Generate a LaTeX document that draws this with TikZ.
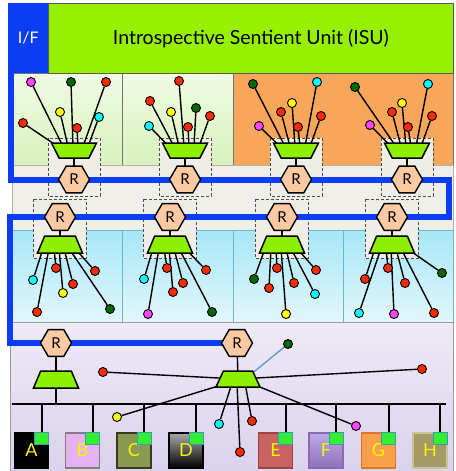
\documentclass[tikz,border=0pt]{standalone}
\usepackage{fontspec}
\setmainfont{Lato}
\usetikzlibrary{shapes.geometric,calc}

\definecolor{isulime}{HTML}{96F000}
\definecolor{muxgreen}{HTML}{8CF000}
\definecolor{ifblue}{HTML}{0D3DF2}
\definecolor{rpeach}{HTML}{FBC9A2}
\definecolor{unitgrey}{HTML}{EEEEE7}
\definecolor{bandgrey}{HTML}{EFEEE9}
\definecolor{panelorange}{HTML}{F7A65A}
\definecolor{leafhi}{HTML}{F0FAE4}
\definecolor{leaflo}{HTML}{D8F2BC}
\definecolor{aquahi}{HTML}{A6E7F7}
\definecolor{aqualo}{HTML}{E3F6FB}
\definecolor{aquaedge}{HTML}{6DB6C9}
\definecolor{lavhi}{HTML}{EEEAF6}
\definecolor{lavlo}{HTML}{DBD1EC}
\definecolor{dotred}{HTML}{FF2A00}
\definecolor{dotgreen}{HTML}{006A00}
\definecolor{dotyellow}{HTML}{FFFF00}
\definecolor{dotcyan}{HTML}{00FFFF}
\definecolor{dotmagenta}{HTML}{FF45FF}
\definecolor{portgreen}{HTML}{33EE33}
\definecolor{portedge}{HTML}{3A9AB0}
\definecolor{letteryellow}{HTML}{F5F500}
\definecolor{steel}{HTML}{5A96C8}
\definecolor{devB}{HTML}{E6B2F2}
\definecolor{devC}{HTML}{8A9A52}
\definecolor{devCedge}{HTML}{3A3A20}
\definecolor{devDhi}{HTML}{A8A8A8}
\definecolor{devE}{HTML}{C96262}
\definecolor{devEedge}{HTML}{A34040}
\definecolor{devFhi}{HTML}{BBAAE4}
\definecolor{devFlo}{HTML}{8F6FBA}
\definecolor{devFedge}{HTML}{8A6AAE}
\definecolor{devG}{HTML}{F8A04C}
\definecolor{devGedge}{HTML}{D9782A}
\definecolor{devH}{HTML}{A39A68}
\definecolor{devHedge}{HTML}{C4C890}

\pgfdeclarelayer{panels}
\pgfdeclarelayer{wires}
\pgfsetlayers{panels,wires,main}

\tikzset{
  router/.style={regular polygon, regular polygon sides=6, minimum size=31pt,
    inner sep=0pt, draw=black, line width=1.4pt, fill=rpeach,
    font=\fontsize{15}{15}\selectfont},
  muxbase/.style={trapezium, trapezium stretches=true, draw=black,
    line width=1.5pt, fill=muxgreen, inner xsep=2pt, inner ysep=1pt, minimum width=45pt},
  demux/.style={muxbase, minimum height=15pt, trapezium left angle=63,
    trapezium right angle=63, shape border rotate=180},
  mux/.style={muxbase, minimum height=17pt, trapezium left angle=65,
    trapezium right angle=65},
  dot/.style={circle, draw=black, line width=0.9pt, minimum size=9pt, inner sep=0pt},
  spoke/.style={line width=1.4pt, draw=black},
  unitbox/.style={draw=black!70, dash pattern=on 3pt off 2pt, line width=0.8pt, fill=unitgrey},
  ifline/.style={draw=ifblue, line width=6pt, line join=miter},
  busline/.style={draw=black, line width=1.6pt},
  device/.style={minimum width=34pt, minimum height=35pt, inner sep=0pt,
    line width=1.2pt, text=letteryellow, font=\fontsize{18}{18}\selectfont},
  port/.style={minimum width=14pt, minimum height=12pt, inner sep=0pt,
    fill=portgreen, draw=portedge, line width=0.8pt},
  panel/.style={draw=black!55, line width=0.6pt},
}

% #1 = switch node, #2 = vertical start offset, #3 = offset/x/y/colour list
\newcommand\fanout[3]{%
  \foreach \o/\x/\y/\c [count=\k] in {#3} {
    \node[dot, fill=\c] (#1d\k) at (\x,\y) {};
    \begin{pgfonlayer}{wires}
      \draw[spoke] ($(#1.center)+(\o,#2)$) -- (#1d\k);
    \end{pgfonlayer}
  }}

\begin{document}
\begin{tikzpicture}[x=1pt,y=-1pt]
\useasboundingbox (0,0) rectangle (455,471);

% background panels
\begin{pgfonlayer}{panels}
  \draw[panel, top color=leafhi, bottom color=leaflo] (12,73) rectangle (122,165);
  \draw[panel, top color=leafhi, bottom color=leaflo] (122,73) rectangle (233,165);
  \draw[panel, fill=panelorange] (233,73) rectangle (453,165);
  \draw[draw=black!30, fill=bandgrey] (12,165) rectangle (453,230);
  \foreach \a/\b in {12/122,122/233,233/343,343/453}
    \draw[draw=aquaedge, line width=0.6pt, top color=aquahi, bottom color=aqualo] (\a,230) rectangle (\b,322);
  \draw[draw=black!40, line width=0.6pt, top color=lavhi, bottom color=lavlo] (10,322) rectangle (453,475);
  \foreach \cx in {74,185,296,407}
    \draw[unitbox] (\cx-26,138) rectangle (\cx+26,196);
  \foreach \cx in {60,170,282,392}
    \draw[unitbox] (\cx-27,199) rectangle (\cx+26,258);
\end{pgfonlayer}

% header
\node[fill=ifblue, minimum width=40pt, minimum height=70pt, anchor=north west,
  inner sep=0pt, text=white, font=\fontsize{16}{16}\selectfont] (ifbox) at (8,3) {\raisebox{-4pt}{I/F}};
\node[fill=isulime, draw=black!65, line width=0.8pt, minimum width=405pt,
  minimum height=70pt, anchor=north west, inner sep=0pt,
  font=\fontsize{19.5}{19.5}\selectfont] (isu) at (48,3) {\raisebox{-4pt}{Introspective Sentient Unit (ISU)}};

% upper switch row
\foreach \i/\cx in {1/74,2/185,3/296,4/407} {
  \node[demux] (t\i) at (\cx,150.5) {};
  \node[router] (rt\i) at (\cx,179.5) {R};
  \begin{pgfonlayer}{wires}\draw[spoke] (t\i.center) -- (rt\i.center);\end{pgfonlayer}
}
\fanout{t1}{-4}{-16/23/123/dotred, -11/31/82/dotmagenta, -6/60/112/dotyellow, -1/71/82/dotgreen, 4/77/128/dotred, 9/106/82/dotred, 14/99/117/dotcyan}
\fanout{t2}{-4}{-16/149/126/dotcyan, -11/150/101/dotred, -6/171/112/dotyellow, -1/179/81/dotred, 4/188/127/dotred, 9/196/108/dotgreen, 14/210/116/dotred}
\fanout{t3}{-4}{-16/259/126/dotmagenta, -11/253/84/dotgreen, -6/281/112/dotred, -1/292/103/dotyellow, 4/298/127/dotred, 9/317/82/dotcyan, 14/321/116/dotred}
\fanout{t4}{-4}{-16/370/125/dotmagenta, -11/355/87/dotgreen, -6/392/112/dotred, -1/402/103/dotyellow, 4/408/127/dotred, 9/428/84/dotcyan, 14/432/116/dotred}

% lower switch row
\foreach \i/\cx in {1/60,2/170,3/282,4/392} {
  \node[router] (rm\i) at (\cx,217) {R};
  \node[mux] (m\i) at (\cx,244.5) {};
  \begin{pgfonlayer}{wires}\draw[spoke] (rm\i.center) -- (m\i.center);\end{pgfonlayer}
}
\fanout{m1}{4}{-17/33/280/dotcyan, -11/37/312/dotred, -6/56/268/dotred, -1/63/293/dotyellow, 4/73/284/dotred, 9/110/309/dotgreen, 15/95/271/dotred}
\fanout{m2}{4}{-17/144/279/dotcyan, -11/148/314/dotmagenta, -6/167/268/dotred, -1/173/292/dotred, 4/183/283/dotred, 9/212/312/dotgreen, 15/206/270/dotred}
\fanout{m3}{4}{-17/254/279/dotgreen, -11/269/288/dotred, -6/277/268/dotred, -1/286/314/dotyellow, 4/294/283/dotred, 9/315/294/dotcyan, 15/316/270/dotred}
\fanout{m4}{4}{-17/365/279/dotred, -11/359/313/dotcyan, -6/388/268/dotred, -1/394/314/dotmagenta, 4/405/283/dotred, 9/434/313/dotred, 15/442/273/dotgreen}

% bottom section
\node[router] (rb1) at (56,343) {R};
\node[mux] (b1) at (56,379.5) {};
\node[router] (rb2) at (237,343) {R};
\node[mux, minimum height=16pt, minimum width=44pt, trapezium left angle=63,
  trapezium right angle=63] (b2) at (238,379) {};
\coordinate (busL) at (12,404);
\coordinate (busR) at (446,404);

\node[dot, fill=dotred] (bd1) at (103,372) {};
\node[dot, fill=dotred] (bd2) at (422,369) {};
\node[dot, fill=dotyellow] (bd3) at (117,417) {};
\node[dot, fill=dotcyan] (bd4) at (219,424) {};
\node[dot, fill=dotred] (bd5) at (240,452) {};
\node[dot, fill=dotred] (bd6) at (252,421) {};
\node[dot, fill=dotmagenta] (bd7) at (356,426) {};
\node[dot, fill=dotgreen] (bd8) at (288,344) {};

% devices on the bus
\node[device, fill=black, draw=black] (devA) at (31.5,450.5) {\raisebox{-3pt}{A}};
\node[device, fill=devB, draw=black!50] (devB) at (82.5,450.5) {\raisebox{-3pt}{B}};
\node[device, fill=devC, draw=devCedge] (devC) at (134,450.5) {\raisebox{-3pt}{C}};
\node[device, top color=devDhi, bottom color=black, draw=black] (devD) at (186,450.5) {\raisebox{-3pt}{D}};
\node[device, fill=devE, draw=devEedge] (devE) at (275.5,450.5) {\raisebox{-3pt}{E}};
\node[device, top color=devFhi, bottom color=devFlo, draw=devFedge] (devF) at (326,450.5) {\raisebox{-3pt}{F}};
\node[device, fill=devG, draw=devGedge] (devG) at (378.5,450.5) {\raisebox{-3pt}{G}};
\node[device, fill=devH, draw=devHedge] (devH) at (430,450.5) {\raisebox{-3pt}{H}};
\foreach \d in {A,B,C,D,E,F,G,H}
  \node[port, anchor=north east] (p\d) at (dev\d.north east) {};

\begin{pgfonlayer}{wires}
  % interface ring
  \coordinate (c1) at (11,179.5);
  \coordinate (c2) at (449,179.5);
  \coordinate (c3) at (449,217);
  \coordinate (c4) at (10,217);
  \coordinate (c5) at (10,343);
  \draw[ifline] ($(ifbox.south -| c1)+(0,-2)$) -- (c1) -- (c2) -- (c3) -- (c4) -- (c5) -- (rb2.center);
  % bus
  \draw[busline] (busL) -- (busR);
  \draw[spoke] (rb1.center) -- (b1.center);
  \draw[spoke] (b1.center) -- (b1.center |- busL);
  \draw[spoke] (rb2.center) -- (b2.center);
  \foreach \d in {A,B,C,D,E,F,G,H}
    \draw[busline] (p\d.north |- busL) -- (p\d.north);
  % fan of the lower switch
  \draw[spoke] (b2.center) -- (bd1);
  \draw[spoke] (b2.center) -- (bd2);
  \draw[spoke] ($(b2.center)+(-10,4)$) -- (bd3);
  \draw[spoke] ($(b2.center)+(-6,4)$) -- (bd4);
  \draw[spoke] ($(b2.center)+(-1,4)$) -- (bd5);
  \draw[spoke] ($(b2.center)+(7,4)$) -- (bd6);
  \draw[spoke] ($(b2.center)+(12,4)$) -- (bd7);
  \draw[draw=steel, line width=1.3pt] ($(b2.center)+(12,-4)$) -- (bd8);
\end{pgfonlayer}
\end{tikzpicture}
\end{document}
